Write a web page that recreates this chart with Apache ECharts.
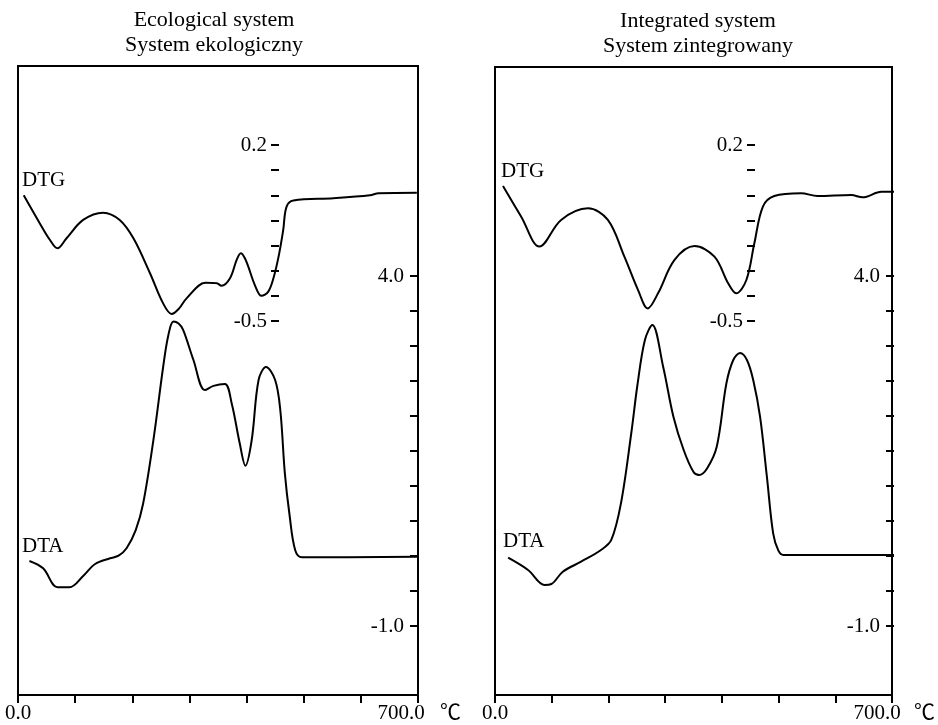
<!DOCTYPE html>
<html>
<head>
<meta charset="utf-8">
<script src="https://cdn.jsdelivr.net/npm/echarts@6/dist/echarts.min.js"></script>
<style>
html,body{margin:0;padding:0;background:#fff;}
#main{width:938px;height:725px;}
</style>
</head>
<body>
<div id="main"></div>
<script>
// temperature axis (degC) and tick labels
var tempTicks = [0, 100, 200, 300, 400, 500, 600, 700];
var dtgLabels = [0.2, -0.5];
var dtaLabels = [4.0, -1.0];

// Ecological system - DTG curve [temp, value]
var ecoDTG = [[10,0.0],[38,-0.111],[56,-0.178],[69,-0.211],[85,-0.171],[114,-0.098],[149,-0.069],
  [178,-0.098],[202,-0.171],[231,-0.31],[254,-0.43],[269,-0.472],[282,-0.45],[295,-0.41],[328,-0.348],
  [348,-0.35],[356,-0.36],[371,-0.33],[383,-0.255],[390,-0.231],[397,-0.25],[403,-0.284],[415,-0.36],
  [426,-0.40],[438,-0.383],[447,-0.33],[456,-0.244],[464,-0.14],[470,-0.045],[482,-0.021],[552,-0.012],
  [616,0.0],[631,0.008],[698,0.01]];
// Ecological system - DTA curve
var ecoDTA = [[20,-0.071],[44,-0.176],[69,-0.447],[90,-0.447],[114,-0.286],[135,-0.114],[161,-0.033],
  [176,0.004],[190,0.11],[206,0.37],[219,0.75],[237,1.66],[254,2.70],[263,3.15],[272,3.35],[281,3.32],
  [289,3.23],[307,2.8],[327,2.37],[342,2.43],[362,2.457],[374,2.18],[388,1.61],[398,1.29],[409,1.657],
  [421,2.514],[434,2.70],[450,2.514],[459,2.086],[467,1.18],[475,0.6],[485,0.086],[497,-0.019],[698,-0.01]];

// Integrated system - DTG curve
var intDTG = [[14,0.037],[46,-0.085],[78,-0.204],[116,-0.098],[163,-0.052],[198,-0.098],[227,-0.244],
  [251,-0.377],[268,-0.45],[286,-0.39],[315,-0.257],[350,-0.202],[385,-0.244],[409,-0.35],[423,-0.39],
  [441,-0.337],[455,-0.191],[470,-0.045],[490,-0.003],[537,0.008],[566,-0.003],[625,0.001],[645,-0.008],
  [678,0.014],[700,0.014]];
// Integrated system - DTA curve
var intDTA = [[23,-0.024],[58,-0.2],[87,-0.414],[99,-0.4],[119,-0.224],[151,-0.081],[186,0.086],[204,0.229],
  [221,0.753],[239,1.75],[250,2.45],[263,3.086],[276,3.3],[295,2.704],[313,1.99],[331,1.514],[348,1.204],
  [358,1.157],[372,1.25],[389,1.56],[406,2.467],[418,2.8],[430,2.9],[442,2.8],[453,2.514],[465,1.99],
  [477,1.133],[488,0.324],[497,0.08],[506,0.014],[700,0.014]];

var FONT = 'Liberation Serif';
var FS = 21;

function near(v, arr){
  for (var i = 0; i < arr.length; i++) { if (Math.abs(v - arr[i]) < 1e-6) return arr[i].toFixed(1); }
  return '';
}

// one panel = frame grid + DTG grid + DTA grid
function panel(p, left, width, frameTop, dtg, dta, dtgAxisX, lastShift){
  var g0 = p * 3;
  var grids = [
    {left:left, top:frameTop, width:width, height:695-frameTop, show:true, borderColor:'#000', borderWidth:2, backgroundColor:'transparent'},
    {left:left, top:145, width:width, height:176},
    {left:left, top:276, width:width, height:350}
  ];
  var xAxes = [
    {gridIndex:g0, type:'value', min:0, max:700, interval:100,
      axisLine:{lineStyle:{color:'#000', width:2}},
      axisTick:{length:8, lineStyle:{color:'#000', width:2}},
      splitLine:{show:false},
      axisLabel:{interval:0, showMaxLabel:true, showMinLabel:true, margin:8, color:'#000', fontFamily:FONT, fontSize:FS,
        formatter:function(v){ if (v === 0) return '0.0'; if (v === 700) return '{r|700.0}'; return ''; },
        rich:{r:{padding:[0,lastShift,0,0], color:'#000', fontFamily:FONT, fontSize:FS}}},
      name:'℃', nameLocation:'end', nameGap:22,
      nameTextStyle:{color:'#000', fontFamily:FONT + ', Noto Sans CJK SC', fontSize:FS, verticalAlign:'top', padding:[8,0,0,0]}},
    {gridIndex:g0+1, type:'value', min:0, max:700, show:false},
    {gridIndex:g0+2, type:'value', min:0, max:700, show:false}
  ];
  var yAxes = [
    {gridIndex:g0, type:'value', min:0, max:1, show:false},
    {gridIndex:g0+1, type:'value', min:-0.5, max:0.2, interval:0.1, position:'left', offset:-(dtgAxisX-left),
      axisLine:{show:false, onZero:false}, splitLine:{show:false},
      axisTick:{show:true, length:8, lineStyle:{color:'#000', width:2}},
      axisLabel:{margin:12, color:'#000', fontFamily:FONT, fontSize:FS, showMinLabel:true, showMaxLabel:true,
        formatter:function(v){ return near(v, dtgLabels); }}},
    {gridIndex:g0+2, type:'value', min:-1, max:4, interval:0.5, position:'right',
      axisLine:{show:false, onZero:false}, splitLine:{show:false},
      axisTick:{show:true, inside:true, length:8, lineStyle:{color:'#000', width:2}},
      axisLabel:{inside:true, margin:14, color:'#000', fontFamily:FONT, fontSize:FS, showMinLabel:true, showMaxLabel:true,
        formatter:function(v){ return near(v, dtaLabels); }}}
  ];
  var line = {type:'line', symbol:'none', smooth:0.35, clip:false, lineStyle:{color:'#000', width:2}};
  var series = [
    Object.assign({}, line, {name:'DTG', xAxisIndex:g0+1, yAxisIndex:g0+1, data:dtg}),
    Object.assign({}, line, {name:'DTA', xAxisIndex:g0+2, yAxisIndex:g0+2, data:dta})
  ];
  return {grids:grids, xAxes:xAxes, yAxes:yAxes, series:series};
}

var pa = panel(0, 18, 400, 66, ecoDTG, ecoDTA, 279, 34);
var pb = panel(1, 495, 399, 67, intDTG, intDTA, 755, 30);

function txt(x, y, s, align, size){
  return {type:'text', x:x, y:y, silent:true,
    style:{text:s, fill:'#000', font:(size || FS) + 'px "' + FONT + '"', align:align || 'left', verticalAlign:'middle', lineHeight:25}};
}

var myChart = echarts.init(document.getElementById('main'), null, {renderer:'canvas'});
myChart.setOption({
  backgroundColor:'#fff',
  animation:false,
  grid: pa.grids.concat(pb.grids),
  xAxis: pa.xAxes.concat(pb.xAxes),
  yAxis: pa.yAxes.concat(pb.yAxes),
  series: pa.series.concat(pb.series),
  graphic: [
    txt(214, 33, 'Ecological system\nSystem ekologiczny', 'center', 22),
    txt(698, 34, 'Integrated system\nSystem zintegrowany', 'center', 22),
    txt(22, 180, 'DTG'), txt(22, 546, 'DTA'),
    txt(501, 171, 'DTG'), txt(503, 541, 'DTA')
  ]
});
</script>
</body>
</html>
